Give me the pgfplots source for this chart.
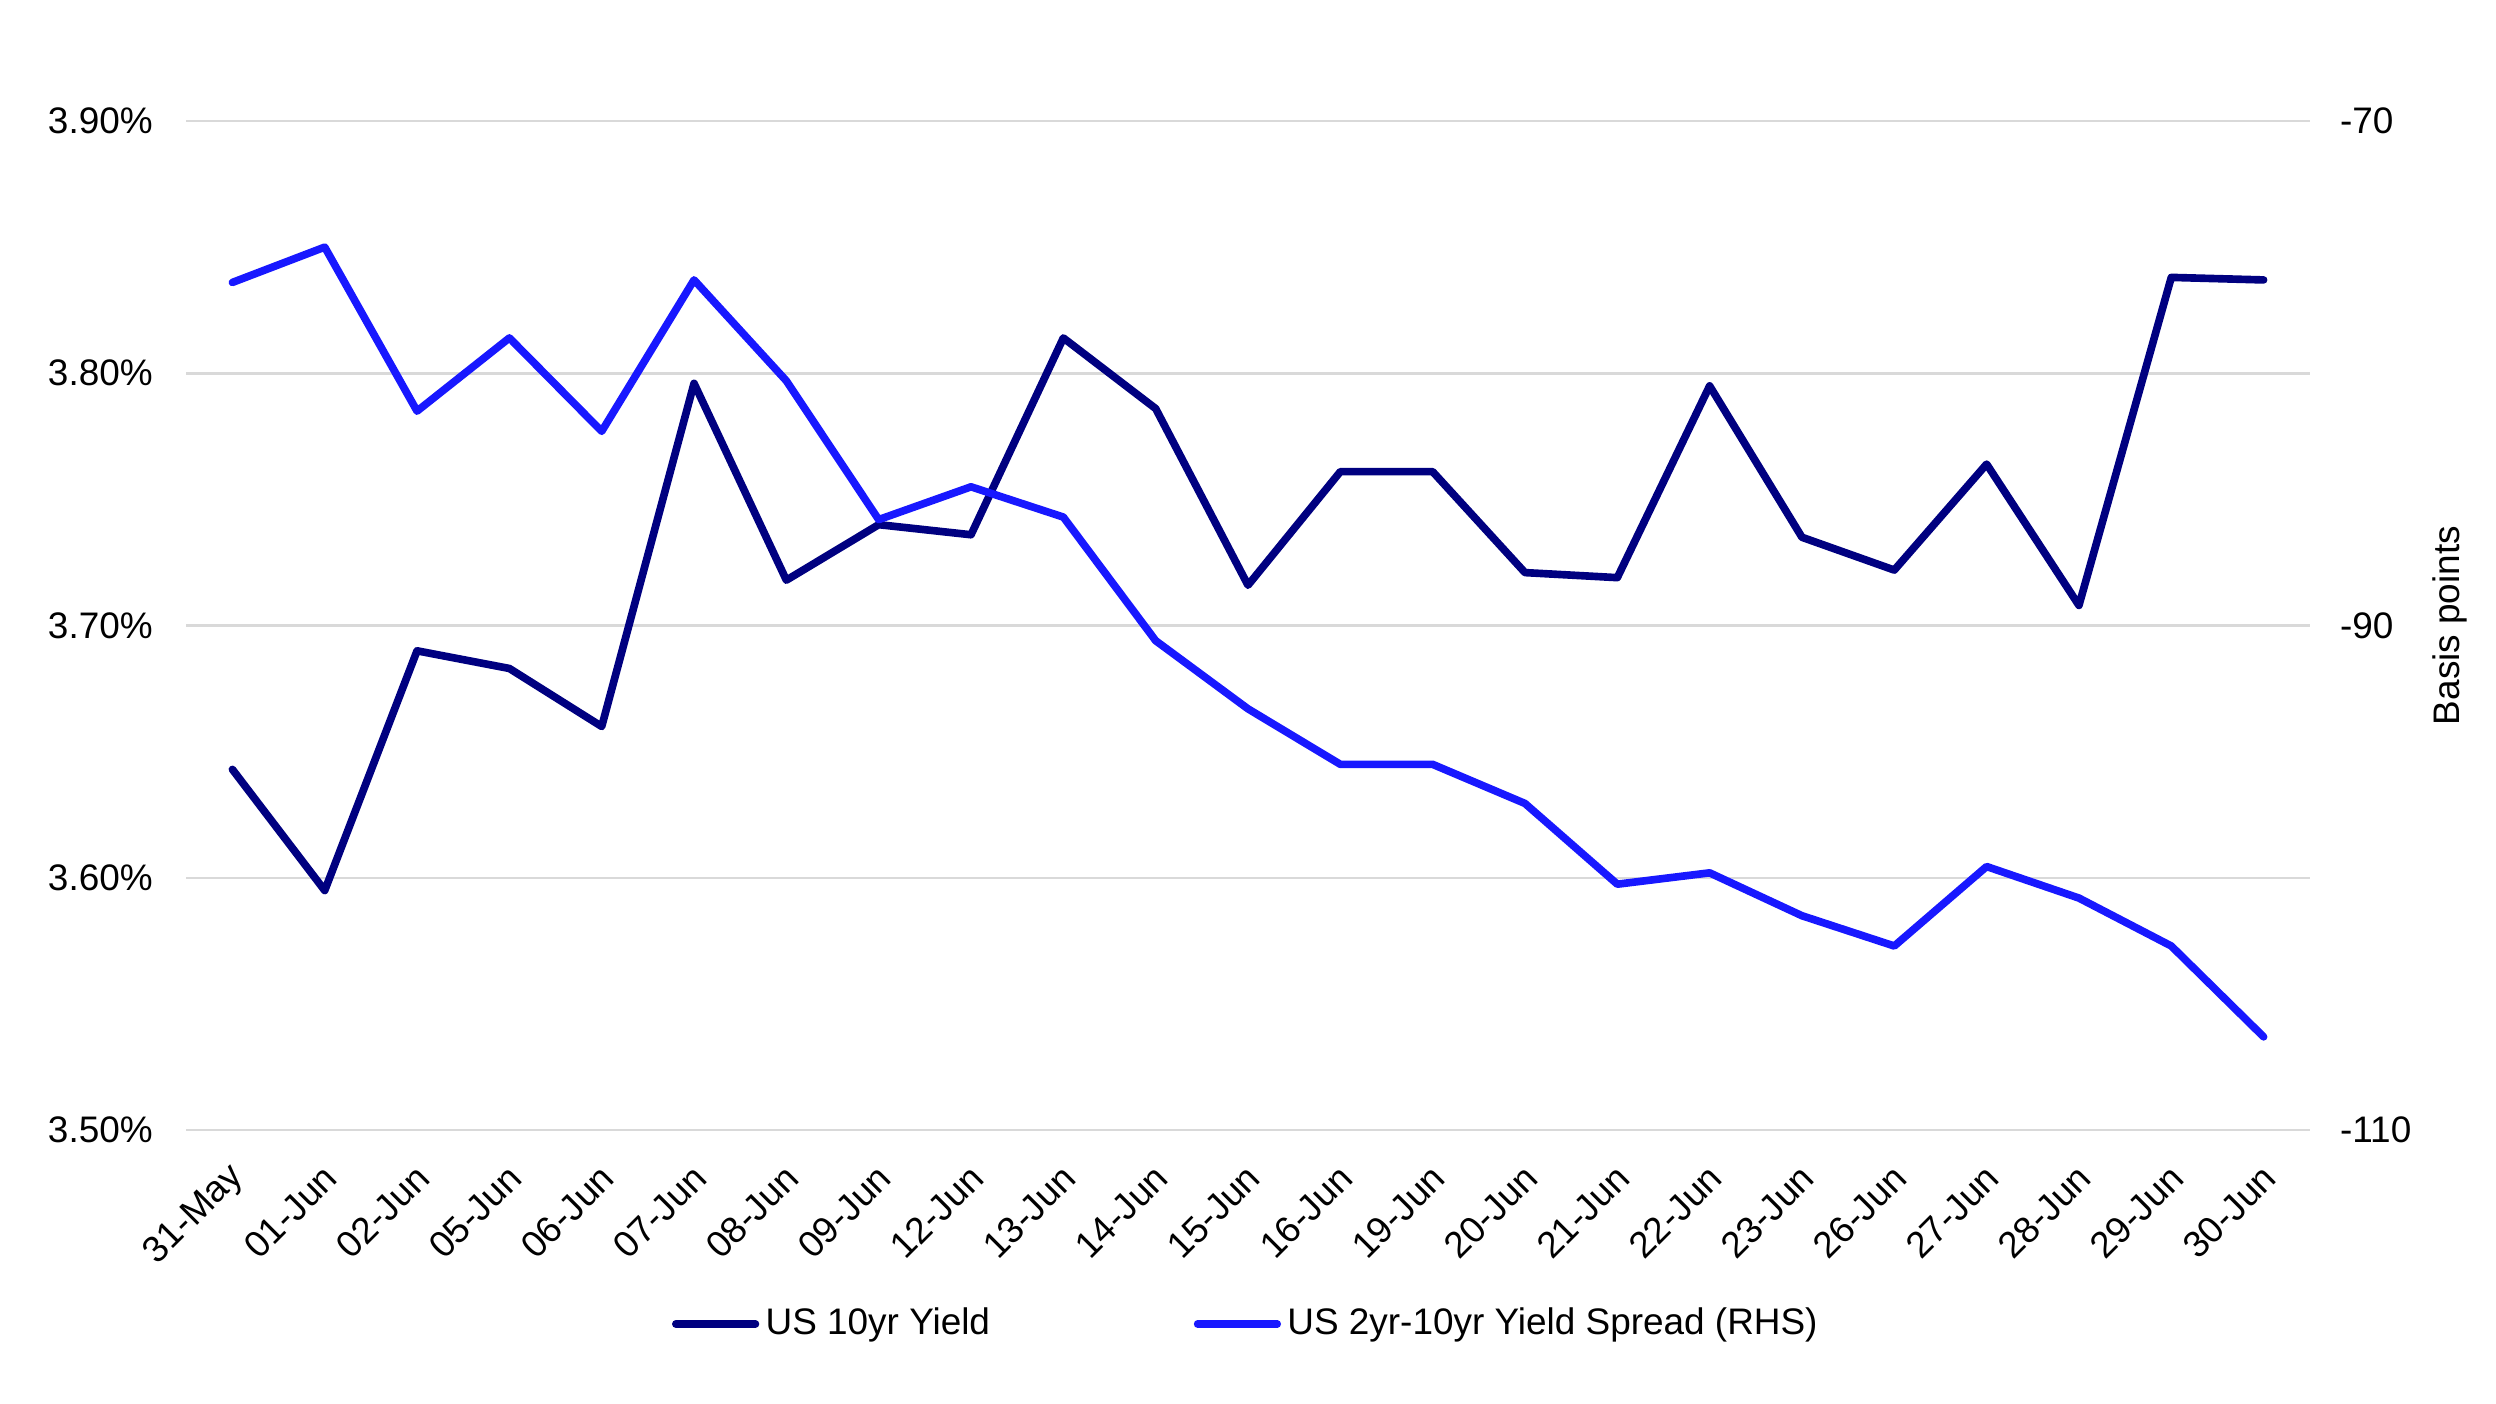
\documentclass[border=0pt]{standalone}
\usepackage{pgfplots}
\pgfplotsset{compat=1.18}
\usepackage{fontspec}
\setmainfont{Liberation Sans}
\definecolor{navyline}{RGB}{0,0,128}
\definecolor{blueline}{RGB}{24,24,255}
\definecolor{gridgray}{RGB}{217,217,217}
\begin{document}
\begin{tikzpicture}
\pgfplotsset{
  every axis/.append style={
    font=\fontsize{11.6}{13.5}\selectfont,
    scale only axis,
    width=667pt, height=317pt,
    xmin=-0.5, xmax=22.5,
    /pgf/number format/assume math mode=true,
  },
}
\begin{axis}[
  name=ax,
  axis y line*=left,
  axis x line*=bottom,
  axis line style={draw=none},
  ymin=3.5, ymax=3.9,
  ytick={3.5,3.6,3.7,3.8,3.9},
  yticklabels={3.50\%,3.60\%,3.70\%,3.80\%,3.90\%},
  ymajorgrids,
  grid style={gridgray, line width=0.8pt},
  major tick length=0pt,
  xtick={0,...,22},
  xticklabels={31-May,01-Jun,02-Jun,05-Jun,06-Jun,07-Jun,08-Jun,09-Jun,12-Jun,13-Jun,14-Jun,15-Jun,16-Jun,19-Jun,20-Jun,21-Jun,22-Jun,23-Jun,26-Jun,27-Jun,28-Jun,29-Jun,30-Jun},
  xticklabel style={rotate=45, anchor=east, yshift=-10.5pt, xshift=-4.5pt},
  yticklabel style={xshift=-7pt},
  legend style={at={(0.5,-0.192)}, anchor=center, draw=none, fill=none,
    legend columns=2, legend cell align=left,
    /tikz/every even column/.append style={column sep=62pt},
    /tikz/every odd column/.append style={column sep=0pt},
    font=\fontsize{11.6}{13.5}\selectfont},
  legend image code/.code={\draw[#1, line width=2.4pt, line cap=round] (0pt,0pt) -- (25pt,0pt);},
]
\addplot[navyline, line width=2.4pt, line join=round, line cap=round] coordinates {
(0,3.643) (1,3.595) (2,3.690) (3,3.683) (4,3.660) (5,3.796) (6,3.718) (7,3.740) (8,3.736) (9,3.814) (10,3.786) (11,3.716) (12,3.761) (13,3.761) (14,3.721) (15,3.719) (16,3.795) (17,3.735) (18,3.722) (19,3.764) (20,3.708) (21,3.838) (22,3.837)
};
\addlegendentry{US 10yr Yield}
\addlegendimage{blueline}
\addlegendentry{US 2yr-10yr Yield Spread (RHS)}
\end{axis}
\begin{axis}[
  axis y line*=right,
  axis x line=none,
  axis line style={draw=none},
  ymin=-110, ymax=-70,
  ytick={-110,-90,-70},
  yticklabels={-110,-90,-70},
  major tick length=0pt,
  yticklabel style={xshift=6pt, anchor=west},
  ylabel={Basis points},
]
\addplot[blueline, line width=2.4pt, line join=round, line cap=round] coordinates {
(0,-76.4) (1,-75.0) (2,-81.5) (3,-78.6) (4,-82.3) (5,-76.3) (6,-80.3) (7,-85.8) (8,-84.5) (9,-85.7) (10,-90.6) (11,-93.3) (12,-95.5) (13,-95.5) (14,-97.05) (15,-100.25) (16,-99.8) (17,-101.5) (18,-102.7) (19,-99.55) (20,-100.8) (21,-102.7) (22,-106.3)
};
\end{axis}
\pgfresetboundingbox
\useasboundingbox ([xshift=-58.5pt,yshift=-86pt]ax.south west) rectangle ([xshift=58.5pt,yshift=38pt]ax.north east);
\end{tikzpicture}
\end{document}
